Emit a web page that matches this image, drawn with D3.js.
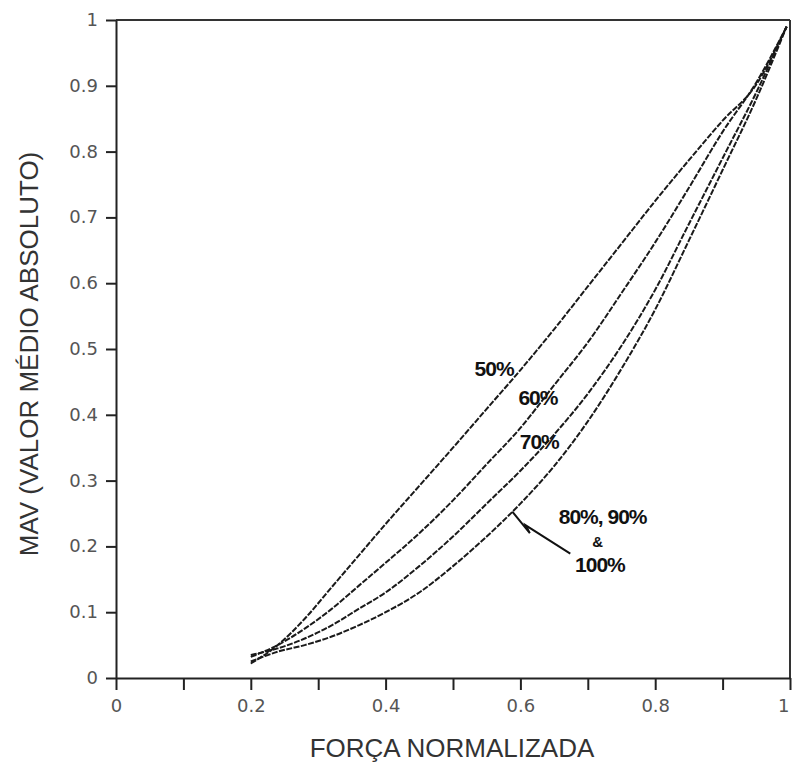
<!DOCTYPE html>
<meta charset="utf-8">
<style>
  html, body {
    margin: 0;
    padding: 0;
    background: #fff;
    overflow: hidden;
  }
  svg {
    display: block;
  }
  .axis path,
  .axis line {
    fill: none;
    stroke: #222;
    stroke-width: 2px;
  }
  .axis text {
    font: normal 18px "DejaVu Sans";
    fill: #555;
  }
  .frame {
    stroke: #333;
    stroke-width: 2px;
  }
  .curve {
    fill: none;
    stroke: #1a1a1a;
    stroke-width: 2px;
    stroke-dasharray: 6,1.5;
  }
  .title {
    font: normal 26px "Liberation Sans";
    fill: #333;
  }
  .label {
    font: bold 21px "Liberation Sans";
    fill: #111;
    letter-spacing: -1px;
  }
  .arrow {
    fill: none;
    stroke: #111;
    stroke-width: 2px;
  }
</style>
<body>
<svg></svg>
<script src="https://d3js.org/d3.v7.min.js"></script>
<script>

  // força normalizada (eixo x)
  var forca = [0.20, 0.24, 0.28, 0.32, 0.36, 0.40, 0.45, 0.50, 0.55, 0.60, 0.65, 0.70, 0.75, 0.80, 0.85, 0.90, 0.95, 0.995];

  // MAV para cada curva
  var mav50  = [0.022, 0.050, 0.090, 0.138, 0.186, 0.234, 0.292, 0.350, 0.409, 0.468, 0.530, 0.595, 0.660, 0.725, 0.787, 0.847, 0.902, 0.990];
  var mav60  = [0.032, 0.050, 0.075, 0.105, 0.140, 0.175, 0.220, 0.270, 0.325, 0.380, 0.445, 0.510, 0.585, 0.662, 0.745, 0.830, 0.905, 0.990];
  var mav70  = [0.035, 0.045, 0.060, 0.080, 0.105, 0.130, 0.170, 0.215, 0.265, 0.315, 0.370, 0.432, 0.505, 0.590, 0.690, 0.790, 0.890, 0.990];
  var mav80  = [0.025, 0.040, 0.050, 0.063, 0.080, 0.100, 0.130, 0.170, 0.215, 0.265, 0.322, 0.390, 0.470, 0.560, 0.665, 0.772, 0.880, 0.990];

  var xTicks = [0, 0.1, 0.2, 0.3, 0.4, 0.5, 0.6, 0.7, 0.8, 0.9, 1];
  var xTickLabels = ["0", "", "0.2", "", "0.4", "", "0.6", "", "0.8", "", "1"];
  var yTicks = [0, 0.1, 0.2, 0.3, 0.4, 0.5, 0.6, 0.7, 0.8, 0.9, 1];
  var yTickLabels = ["0", "0.1", "0.2", "0.3", "0.4", "0.5", "0.6", "0.7", "0.8", "0.9", "1"];

  // rótulos das curvas, em coordenadas dos dados
  var labels = [
    {text: "50%", x: 0.561, y: 0.47},
    {text: "60%", x: 0.626, y: 0.427},
    {text: "70%", x: 0.628, y: 0.36},
    {text: "80%, 90%", x: 0.722, y: 0.245},
    {text: "100%", x: 0.718, y: 0.172}
  ];
  var ampersand = {text: "&", x: 0.714, y: 0.207};
  var seta = [[0.588, 0.253], [0.614, 0.22], [0.608, 0.232], [0.674, 0.189]];

  var margin = {top: 20, right: 2, bottom: 87, left: 116},
      width = 792 - margin.left - margin.right,
      height = 765 - margin.top - margin.bottom;

  var svg = d3.select("svg")
      .attr("width", 792)
      .attr("height", 765);

  var g = svg.append("g")
      .attr("transform", "translate(" + margin.left + "," + margin.top + ")");

  var x = d3.scaleLinear().domain([0, 1]).range([0, width]);
  var y = d3.scaleLinear().domain([0, 1]).range([height, 0]);

  // moldura superior e direita
  g.append("line")
    .attr("class", "frame")
    .attr("x1", x(0)).attr("x2", x(1))
    .attr("y1", y(1)).attr("y2", y(1));

  g.append("line")
    .attr("class", "frame")
    .attr("x1", x(1)).attr("x2", x(1))
    .attr("y1", y(1)).attr("y2", y(0));

  g.append("g")
    .attr("class", "axis axis--x")
    .attr("transform", "translate(0," + height + ")")
    .call(d3.axisBottom(x)
      .tickValues(xTicks)
      .tickSize(12)
      .tickSizeOuter(0)
      .tickPadding(9)
      .tickFormat(function(d, i) { return xTickLabels[i]; }));

  // o "1" fica encostado na borda direita
  g.selectAll(".axis--x .tick")
    .filter(function(d) { return d === 1; })
    .select("text")
      .attr("text-anchor", "end")
      .attr("dx", "-1");

  g.append("g")
    .attr("class", "axis axis--y")
    .call(d3.axisLeft(y)
      .tickValues(yTicks)
      .tickSize(10)
      .tickSizeOuter(0)
      .tickPadding(8)
      .tickFormat(function(d, i) { return yTickLabels[i]; }));

  g.selectAll(".axis--y .tick text").attr("dy", "0.3em");

  var line = d3.line()
    .x(function(d) { return x(d[0]); })
    .y(function(d) { return y(d[1]); })
    .curve(d3.curveMonotoneX);

  [mav50, mav60, mav70, mav80].forEach(function(serie) {
    g.append("path")
      .datum(forca.map(function(f, i) { return [f, serie[i]]; }))
      .attr("class", "curve")
      .attr("d", line);
  });

  g.append("g")
    .selectAll("text")
    .data(labels)
    .enter()
    .append("text")
      .attr("class", "label")
      .attr("x", function(d) { return x(d.x); })
      .attr("y", function(d) { return y(d.y); })
      .attr("text-anchor", "middle")
      .attr("dominant-baseline", "central")
      .text(function(d) { return d.text; });

  g.append("text")
    .attr("class", "label")
    .attr("x", x(ampersand.x))
    .attr("y", y(ampersand.y))
    .attr("text-anchor", "middle")
    .attr("dominant-baseline", "central")
    .style("font-size", "15px")
    .text(ampersand.text);

  g.append("path")
    .attr("class", "arrow")
    .attr("d", d3.line()
      .x(function(d) { return x(d[0]); })
      .y(function(d) { return y(d[1]); })(seta));

  // títulos dos eixos
  svg.append("text")
    .attr("class", "title")
    .attr("x", 452)
    .attr("y", 757)
    .attr("text-anchor", "middle")
    .text("FORÇA NORMALIZADA");

  svg.append("text")
    .attr("class", "title")
    .attr("transform", "translate(38,354) rotate(-90)")
    .attr("text-anchor", "middle")
    .text("MAV (VALOR MÉDIO ABSOLUTO)");

</script>
</body>
